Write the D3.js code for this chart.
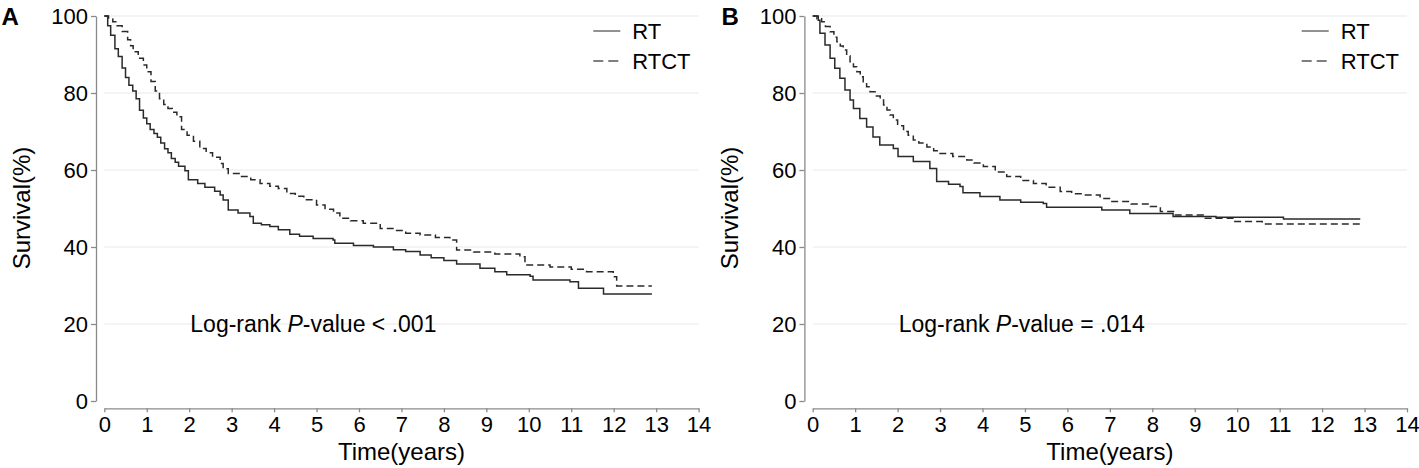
<!DOCTYPE html>
<html>
<head>
<meta charset="utf-8">
<script src="https://cdn.jsdelivr.net/npm/d3@7"></script>
<style>
  body { margin: 0; background: #fff; }
  svg { display: block; font-family: "Liberation Sans", Arial, sans-serif; }
</style>
</head>
<body>
<div id="chart"></div>
<script>
// x axis ticks (years) and y axis ticks (%)
const timeTicks = d3.range(0, 15);
const survTicks = [0, 20, 40, 60, 80, 100];
const seriesNames = ["RT", "RTCT"];
const pLabels = ["Log-rank P-value < .001", "Log-rank P-value = .014"];

// Panel A, RT (solid)
const rtA_time = [0, 0.08, 0.15, 0.25, 0.33, 0.42, 0.5, 0.58, 0.67, 0.75, 0.83, 0.92, 1.0, 1.08, 1.17, 1.25, 1.33, 1.42, 1.5, 1.58, 1.67, 1.75, 1.9, 1.98, 2.2, 2.37, 2.6, 2.73, 2.8, 2.92, 3.15, 3.43, 3.51, 3.7, 3.9, 4.1, 4.37, 4.6, 4.92, 5.39, 5.43, 5.87, 6.34, 6.81, 7.1, 7.44, 7.7, 8.0, 8.3, 8.85, 9.2, 9.48, 10.03, 10.1, 10.97, 11.17, 11.76, 12.9];
const rtA_surv = [100, 97.5, 95, 91.5, 89.5, 86.5, 84, 82, 80.5, 78.5, 75.5, 73.5, 72, 70.5, 69.5, 68.5, 67, 65.5, 64.5, 63, 62, 61, 59.8, 57.5, 56.5, 55.5, 54.5, 53.5, 52.2, 49.6, 48.8, 47.9, 46.2, 45.8, 45.3, 44.5, 43.3, 42.8, 42.2, 41.8, 41.0, 40.4, 40.0, 39.3, 38.8, 37.9, 37.2, 36.5, 35.6, 34.5, 33.6, 32.8, 32.4, 31.4, 31.0, 29.3, 27.8, 27.8];

// Panel A, RTCT (dashed)
const rtctA_time = [0, 0.1, 0.2, 0.3, 0.42, 0.55, 0.62, 0.68, 0.8, 0.92, 1.0, 1.1, 1.2, 1.3, 1.4, 1.5, 1.6, 1.71, 1.82, 1.95, 2.1, 2.25, 2.4, 2.55, 2.73, 2.8, 2.92, 3.2, 3.45, 3.67, 3.9, 4.1, 4.3, 4.5, 4.7, 5.0, 5.2, 5.4, 5.55, 5.8, 6.1, 6.5, 6.8, 7.1, 7.44, 7.8, 8.14, 8.3, 8.7, 9.2, 9.79, 9.91, 10.5, 11.0, 11.36, 11.99, 12.07, 12.9];
const rtctA_surv = [100, 99.2, 98.5, 97.5, 96, 93.8, 92.3, 90.7, 89, 87.3, 85.5, 83, 80.5, 78.5, 77, 76, 75, 73.8, 70.5, 69, 67.5, 65.6, 64.5, 63.3, 61.7, 60.3, 59.1, 58.3, 57.5, 56.5, 55.8, 55.2, 53.9, 53.2, 52.3, 50.9, 49.8, 48.8, 47.5, 46.8, 46.2, 44.8, 44.3, 43.6, 43.1, 42.5, 41.8, 39.2, 38.7, 38.2, 37.5, 35.3, 34.8, 34.2, 33.6, 32.3, 29.9, 29.9];

// Panel B, RT (solid)
const rtB_time = [0, 0.13, 0.17, 0.29, 0.41, 0.52, 0.64, 0.76, 0.88, 0.96, 1.11, 1.27, 1.42, 1.58, 1.9, 2.01, 2.37, 2.76, 2.92, 3.2, 3.47, 3.54, 3.94, 4.41, 4.9, 5.43, 5.51, 6.81, 7.47, 8.49, 9.5, 11.09, 12.9];
const rtB_surv = [100, 98.9, 95.5, 92.5, 89, 86.4, 83.8, 80.8, 78.2, 76, 73.4, 71.2, 68.6, 66.5, 65.6, 63.5, 62.2, 60.4, 57, 56.3, 55.7, 54.1, 53.1, 52.2, 51.6, 51.3, 50.3, 49.6, 48.7, 47.9, 47.7, 47.3, 47.3];

// Panel B, RTCT (dashed)
const rtctB_time = [0, 0.1, 0.21, 0.3, 0.41, 0.5, 0.57, 0.65, 0.72, 0.8, 0.88, 0.96, 1.04, 1.12, 1.19, 1.27, 1.35, 1.47, 1.59, 1.67, 1.75, 1.82, 1.9, 2.0, 2.14, 2.25, 2.37, 2.5, 2.69, 2.85, 3.0, 3.3, 3.63, 3.8, 4.02, 4.3, 4.57, 4.9, 5.2, 5.5, 5.83, 6.1, 6.38, 6.77, 7.01, 7.5, 7.95, 8.19, 8.5, 9.2, 9.92, 10.59, 12.95];
const rtctB_surv = [100, 99.3, 98.5, 97.3, 95.9, 94.5, 93.3, 92.2, 91.2, 89.7, 88.1, 86.8, 85.5, 84.2, 82.9, 81.6, 80.3, 79.2, 78.2, 76.9, 75.6, 74.3, 73, 71.5, 70, 69, 67.8, 67, 66, 65, 64.3, 63.5, 62.6, 61.8, 60.9, 59.5, 58.3, 57.3, 56.5, 55.5, 54.4, 53.8, 53.5, 52.6, 51.8, 51.2, 50.5, 49.2, 48.3, 47.5, 46.6, 46.0, 46.0];

const zip = (t, s) => t.map((v, i) => ({t: v, s: s[i]}));

const panels = [
  {letter: "A", letterX: 1.5, left: 104.3, rt: zip(rtA_time, rtA_surv), rtct: zip(rtctA_time, rtctA_surv), p: pLabels[0]},
  {letter: "B", letterX: 721.5, left: 812.7, rt: zip(rtB_time, rtB_surv), rtct: zip(rtctB_time, rtctB_surv), p: pLabels[1]}
];

const W = 1419, H = 468;
const plotW = 594.3, plotTop = 16, plotBottom = 401, xAxisY = 408.3;

const svg = d3.select("#chart").append("svg")
    .attr("width", W)
    .attr("height", H);

svg.append("rect").attr("width", W).attr("height", H).attr("fill", "#fff");

panels.forEach(p => {
  const x = d3.scaleLinear().domain([0, 14]).range([p.left, p.left + plotW]);
  const y = d3.scaleLinear().domain([0, 100]).range([plotBottom, plotTop]);
  const g = svg.append("g");

  // gridlines
  g.append("g")
    .selectAll("line")
    .data(survTicks.filter(d => d > 0))
    .enter().append("line")
    .attr("x1", x(0)).attr("x2", x(14))
    .attr("y1", d => y(d)).attr("y2", d => y(d))
    .attr("stroke", "#eaeaea")
    .attr("stroke-width", 1.2);

  // y axis
  const yAxis = g.append("g")
    .attr("transform", "translate(" + (p.left - 8.3) + ",0)")
    .call(d3.axisLeft(y).tickValues(survTicks).tickSize(5).tickSizeOuter(0).tickPadding(3));
  yAxis.selectAll("text").style("font-size", "22px").attr("fill", "#000");

  // x axis
  const xAxis = g.append("g")
    .attr("transform", "translate(0," + xAxisY + ")")
    .call(d3.axisBottom(x).tickValues(timeTicks).tickSize(4).tickSizeOuter(0).tickPadding(4));
  xAxis.selectAll("text").style("font-size", "22px").attr("fill", "#000");

  [yAxis, xAxis].forEach(a => {
    a.select(".domain").attr("stroke", "#8a8a8a").attr("stroke-width", 1.3);
    a.selectAll(".tick line").attr("stroke", "#8a8a8a").attr("stroke-width", 1.3);
  });

  // axis titles
  g.append("text")
    .attr("x", x(7))
    .attr("y", 460)
    .attr("text-anchor", "middle")
    .style("font-size", "24px")
    .text("Time(years)");

  g.append("text")
    .attr("transform", "translate(" + (p.left - 83) + "," + 208 + ") rotate(-90)")
    .attr("text-anchor", "middle")
    .attr("dy", "0.35em")
    .style("font-size", "24px")
    .text("Survival(%)");

  // panel letter
  g.append("text")
    .attr("x", p.letterX)
    .attr("y", 25)
    .style("font-size", "24px")
    .style("font-weight", "bold")
    .text(p.letter);

  // survival curves
  const line = d3.line()
    .x(d => x(d.t))
    .y(d => y(d.s))
    .curve(d3.curveStepAfter);

  g.append("path")
    .datum(p.rtct)
    .attr("d", line)
    .attr("fill", "none")
    .attr("stroke", "#2a2a2a")
    .attr("stroke-width", 1.5)
    .attr("stroke-dasharray", "7,4");

  g.append("path")
    .datum(p.rt)
    .attr("d", line)
    .attr("fill", "none")
    .attr("stroke", "#2a2a2a")
    .attr("stroke-width", 1.5);

  // log-rank annotation
  const parts = p.p.split("P");
  const ann = g.append("text")
    .attr("x", x(0) + 86)
    .attr("y", 332)
    .style("font-size", "23px");
  ann.append("tspan").text(parts[0]);
  ann.append("tspan").style("font-style", "italic").text("P");
  ann.append("tspan").text(parts[1]);

  // legend
  const lg = g.append("g").attr("transform", "translate(" + (p.left + 489) + ",0)");
  seriesNames.forEach((name, i) => {
    const ly = 31 + i * 30;
    lg.append("line")
      .attr("x1", 0).attr("x2", 27)
      .attr("y1", ly).attr("y2", ly)
      .attr("stroke", "#555")
      .attr("stroke-width", 1.3)
      .attr("stroke-dasharray", i === 1 ? "10,5" : null);
    lg.append("text")
      .attr("x", 39)
      .attr("y", ly)
      .attr("dy", "0.36em")
      .style("font-size", "22px")
      .text(name);
  });
});
</script>
</body>
</html>
